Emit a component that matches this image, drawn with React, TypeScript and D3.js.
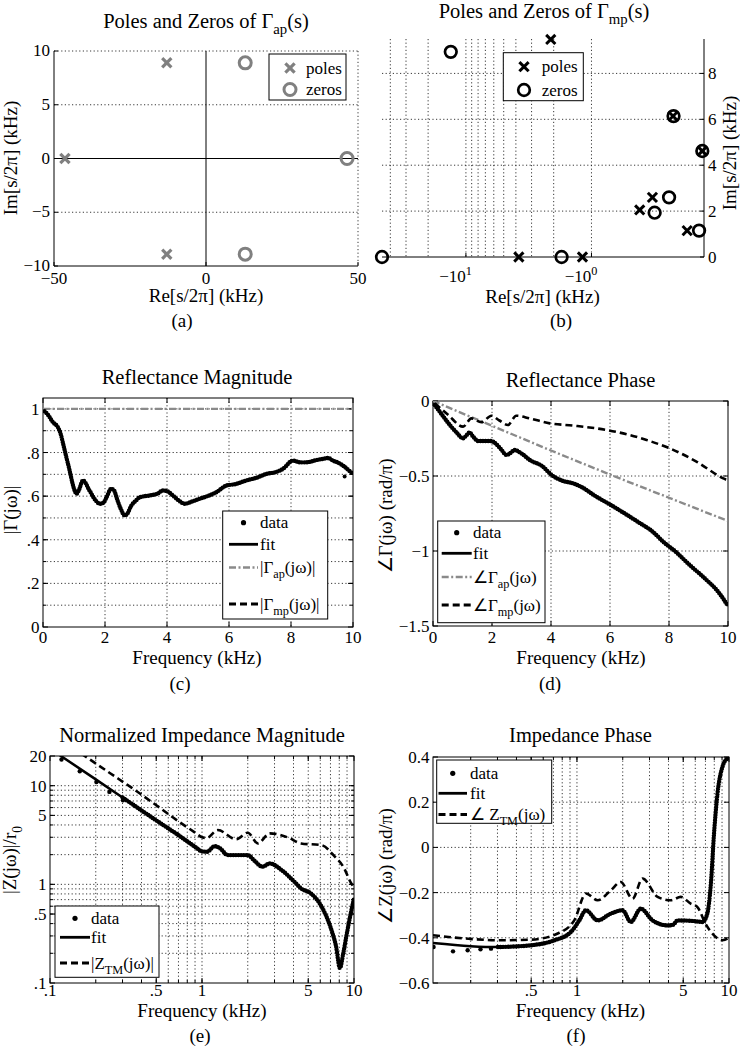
import React from 'react';
import * as d3 from 'd3';

const FONT = "'Liberation Serif', 'Times New Roman', Times, serif";

// ===== (a) poles / zeros of Γap (kHz) =====
const apPoleRe = [-12.9, -12.9, -46.4];
const apPoleIm = [8.9, -8.9, 0];
const apZeroRe = [12.9, 12.9, 46.4];
const apZeroIm = [8.9, -8.9, 0];
const aXTicks = [-50, 0, 50];
const aYTicks = [-10, -5, 0, 5, 10];
const aYGrid = [-5, 5];

// ===== (b) poles / zeros of Γmp (kHz) =====
const mpPoleRe = [-2.11, -3.79, -1.18, -0.224, -0.131, -0.413, -0.327, -0.173];
const mpPoleIm = [9.48, 0, 0, 6.14, 4.62, 2.05, 2.6, 1.15];
const mpZeroRe = [-46.6, -13.2, -1.73, -0.222, -0.131, -0.314, -0.241, -0.139];
const mpZeroIm = [0, 8.94, 0, 6.14, 4.62, 1.93, 2.6, 1.15];
const bYTicks = [0, 2, 4, 6, 8];
const bXTickMag = [10, 1];
const bXTickExp = ['1', '0'];
const bGridMag = [40, 30, 20, 10, 9, 8, 7, 6, 5, 4, 3, 2, 1];
const bYGrid = [2, 4, 6, 8];

// ===== (c) reflectance magnitude =====
const cMagFit: [number, number][] = [
  [0.05, 0.989], [0.15, 0.975], [0.32, 0.939], [0.48, 0.916], [0.56, 0.89], [0.65, 0.84], [0.75, 0.78],
  [0.86, 0.717], [0.95, 0.66], [1.02, 0.626], [1.08, 0.611], [1.15, 0.625], [1.29, 0.672], [1.5, 0.626],
  [1.7, 0.58], [1.83, 0.565], [1.95, 0.57], [2.05, 0.595], [2.2, 0.634], [2.3, 0.625], [2.37, 0.595],
  [2.5, 0.545], [2.64, 0.511], [2.72, 0.52], [2.85, 0.557], [3.0, 0.58], [3.12, 0.595], [3.44, 0.603],
  [3.7, 0.612], [3.87, 0.626], [4.0, 0.623], [4.19, 0.603], [4.4, 0.578], [4.57, 0.565], [4.8, 0.575],
  [5.05, 0.588], [5.3, 0.6], [5.59, 0.618], [5.92, 0.649], [6.2, 0.655], [6.56, 0.672], [6.9, 0.685],
  [7.2, 0.702], [7.5, 0.71], [7.74, 0.725], [8.06, 0.763], [8.3, 0.755], [8.5, 0.755], [8.8, 0.765],
  [9.03, 0.771], [9.2, 0.775], [9.35, 0.763], [9.5, 0.755], [9.68, 0.74], [9.85, 0.72], [10, 0.702],
];
const cMagMp = cMagFit; // |Γmp| coincides with |Γ| since |Γap| = 1
const cMagAp: [number, number][] = [[0, 1], [10, 1]];
const cDataOutliers: [number, number][] = [[9.73, 0.69]];
const cXTicks = [0, 2, 4, 6, 8, 10];
const cYTicks: [number, string][] = [[0, '0'], [0.2, '.2'], [0.4, '.4'], [0.6, '.6'], [0.8, '.8'], [1, '1']];
const cYGrid = [0.1, 0.2, 0.3, 0.4, 0.5, 0.6, 0.7, 0.8, 0.9, 1.0];

// ===== (d) reflectance phase (rad/π) =====
const dPhaseFit: [number, number][] = [
  [0.06, -0.027], [0.3, -0.09], [0.57, -0.16], [0.8, -0.21], [1.02, -0.249], [1.12, -0.232], [1.24, -0.209],
  [1.35, -0.235], [1.53, -0.267], [1.98, -0.267], [2.1, -0.28], [2.3, -0.32], [2.49, -0.36], [2.6, -0.35],
  [2.77, -0.327], [3.0, -0.35], [3.28, -0.393], [3.73, -0.438], [4.0, -0.49], [4.41, -0.533], [4.75, -0.549],
  [5.0, -0.57], [5.54, -0.638], [6.0, -0.69], [6.22, -0.716], [6.9, -0.8], [7.5, -0.88], [7.8, -0.938],
  [8.2, -1.0], [8.7, -1.093], [9.2, -1.18], [9.7, -1.28], [10, -1.367],
];
const dPhaseMp: [number, number][] = [
  [0.06, -0.015], [0.5, -0.09], [1.02, -0.171], [1.3, -0.116], [1.64, -0.142], [1.98, -0.098], [2.25, -0.13],
  [2.54, -0.16], [2.82, -0.098], [3.28, -0.116], [3.96, -0.149], [4.75, -0.164], [5.88, -0.193], [6.67, -0.227],
  [7.24, -0.26], [8.03, -0.316], [8.93, -0.404], [9.84, -0.516], [10, -0.53],
];
const dPhaseAp: [number, number][] = [[0, 0], [2, -0.165], [4, -0.33], [6, -0.49], [8, -0.645], [10, -0.8]];
const dYTicks: [number, string][] = [[0, '0'], [-0.5, '−0.5'], [-1, '−1'], [-1.5, '−1.5']];
const dYGrid = [-0.5, -1];

// ===== (e) normalized impedance magnitude =====
const eMagFit: [number, number][] = [
  [0.11, 21.5], [0.2, 11.6], [0.3, 7.6], [0.5, 4.45], [0.7, 3.15], [0.9, 2.4], [1.0, 2.16], [1.08, 2.14],
  [1.21, 2.44], [1.3, 2.35], [1.48, 1.98], [2.0, 1.98], [2.2, 1.75], [2.5, 1.51], [2.79, 1.63], [3.33, 1.4],
  [4.06, 1.06], [4.48, 0.91], [5.2, 0.81], [6.1, 0.6], [7.1, 0.346], [7.6, 0.24], [8.08, 0.142], [8.5, 0.2],
  [8.9, 0.296], [9.5, 0.5], [10, 0.72],
];
const eMagTM: [number, number][] = [
  [0.16, 21.2], [0.25, 13.3], [0.342, 9.6], [0.51, 6.2], [0.7, 4.35], [0.9, 3.35], [1.0, 3.0], [1.07, 2.95],
  [1.27, 3.55], [1.68, 2.86], [2.0, 3.34], [2.33, 2.6], [2.79, 3.29], [3.67, 2.99], [4.48, 2.6], [6.1, 2.5],
  [7.5, 1.9], [8.5, 1.51], [9.6, 1.02], [10, 0.93],
];
const eDataLow: [number, number][] = [[0.119, 18.4], [0.157, 14.0], [0.202, 10.9], [0.246, 8.65], [0.302, 7.1]];
const eXTicks: [number, string][] = [[0.1, '.1'], [0.5, '.5'], [1, '1'], [5, '5'], [10, '10']];
const eYTicks: [number, string][] = [[0.1, '.1'], [0.5, '.5'], [1, '1'], [5, '5'], [10, '10'], [20, '20']];

// ===== (f) impedance phase =====
const fPhaseFit: [number, number][] = [
  [0.113, -0.423], [0.2, -0.437], [0.302, -0.441], [0.5, -0.433], [0.71, -0.411], [0.913, -0.374],
  [1.036, -0.323], [1.146, -0.278], [1.367, -0.323], [1.67, -0.293], [1.996, -0.278], [2.26, -0.33],
  [2.63, -0.271], [3.14, -0.323], [3.94, -0.345], [4.3, -0.342], [4.58, -0.323], [5.9, -0.326], [6.7, -0.33],
  [7.2, -0.293], [7.6, -0.16], [7.97, 0.061], [8.4, 0.238], [9.05, 0.356], [9.75, 0.393], [10, 0.395],
];
const fPhaseTM: [number, number][] = [
  [0.113, -0.389], [0.2, -0.405], [0.3, -0.411], [0.5, -0.408], [0.747, -0.381], [0.96, -0.323],
  [1.146, -0.204], [1.367, -0.234], [1.67, -0.19], [1.94, -0.153], [2.32, -0.227], [2.7, -0.138],
  [3.39, -0.219], [4.14, -0.234], [4.82, -0.219], [5.6, -0.249], [6.2, -0.264], [7.0, -0.337], [7.97, -0.389],
  [9.05, -0.411], [9.76, -0.404], [10, -0.395],
];
const fDataLow: [number, number][] = [[0.114, -0.441], [0.153, -0.46], [0.191, -0.455], [0.232, -0.451], [0.272, -0.448]];
const fXTicks: [number, string][] = [[0.5, '.5'], [1, '1'], [5, '5'], [10, '10']];
const fYTicks: [number, string][] = [[-0.6, '−0.6'], [-0.4, '−0.4'], [-0.2, '−0.2'], [0, '0'], [0.2, '0.2'], [0.4, '0.4']];
const fYGrid = [-0.4, -0.2, 0, 0.2];

const logMinor = [0.2, 0.3, 0.4, 0.5, 0.6, 0.7, 0.8, 0.9, 1, 2, 3, 4, 5, 6, 7, 8, 9];

// ===== styles =====
const GRID = { stroke: '#222', strokeWidth: 0.9, strokeDasharray: '1.2,2.4' };
const FIT = { fill: 'none', stroke: '#000', strokeWidth: 2.5 };
const DATA = { fill: 'none', stroke: '#000', strokeWidth: 4.4, strokeDasharray: '0,2.6', strokeLinecap: 'round' as const };
const DASH = { fill: 'none', stroke: '#000', strokeWidth: 2.6, strokeDasharray: '7,4' };
const DASHDOT = { fill: 'none', stroke: '#8a8a8a', strokeWidth: 2.4, strokeDasharray: '7,2.5,2,2.5' };
const TICK = 17, LAB = 19, TITLE = 20.5, LEG = 17;

type Seg = { t: string; s?: 'sub' | 'sup' };
function parse(s: string): Seg[] {
  const out: Seg[] = [];
  const re = /([_^])\{([^}]*)\}/g;
  let last = 0;
  let m: RegExpExecArray | null;
  while ((m = re.exec(s))) {
    if (m.index > last) out.push({ t: s.slice(last, m.index) });
    out.push({ t: m[2], s: m[1] === '_' ? 'sub' : 'sup' });
    last = re.lastIndex;
  }
  if (last < s.length) out.push({ t: s.slice(last) });
  return out;
}

function Rich({ x, y, s, size, anchor = 'start', rot = false }: { x: number; y: number; s: string; size: number; anchor?: string; rot?: boolean }) {
  let shift = 0;
  const segs = parse(s);
  const spans = segs.map((sg, i) => {
    const target = sg.s === 'sub' ? size * 0.3 : sg.s === 'sup' ? -size * 0.42 : 0;
    const dy = target - shift;
    shift = target;
    return (
      <tspan key={i} dy={dy} fontSize={sg.s ? size * 0.72 : size}>
        {sg.t}
      </tspan>
    );
  });
  const txt = (
    <text x={rot ? 0 : x} y={rot ? 0 : y} fontSize={size} textAnchor={anchor as any} fill="#000" style={{ whiteSpace: 'pre' }}>
      {spans}
    </text>
  );
  return rot ? <g transform={`translate(${x},${y}) rotate(-90)`}>{txt}</g> : txt;
}

function XMark({ cx, cy, h, color, w }: { cx: number; cy: number; h: number; color: string; w: number }) {
  return (
    <g stroke={color} strokeWidth={w}>
      <line x1={cx - h} y1={cy - h} x2={cx + h} y2={cy + h} />
      <line x1={cx - h} y1={cy + h} x2={cx + h} y2={cy - h} />
    </g>
  );
}
function OMark({ cx, cy, r, color, w }: { cx: number; cy: number; r: number; color: string; w: number }) {
  return <circle cx={cx} cy={cy} r={r} fill="none" stroke={color} strokeWidth={w} />;
}

function path(xs: any, ys: any, pts: [number, number][]) {
  return d3.line<[number, number]>().x((d) => xs(d[0])).y((d) => ys(d[1])).curve(d3.curveMonotoneX)(pts) || '';
}

type Box = { x0: number; x1: number; y0: number; y1: number };

function Frame({ b, xs, ys, xGrid, yGrid, xTicks, yTicks, xMinor = [], yMinor = [], xOff = 17 }: {
  b: Box; xs: any; ys: any; xGrid: number[]; yGrid: number[]; xTicks: [number, string][]; yTicks: [number, string][];
  xMinor?: number[]; yMinor?: number[]; xOff?: number;
}) {
  const { x0, x1, y0, y1 } = b;
  const TL = 5, TM = 3;
  return (
    <g>
      {xGrid.map((v) => <line key={'gx' + v} x1={xs(v)} x2={xs(v)} y1={y0} y2={y1} {...GRID} />)}
      {yGrid.map((v) => <line key={'gy' + v} x1={x0} x2={x1} y1={ys(v)} y2={ys(v)} {...GRID} />)}
      <g stroke="#000" strokeWidth={1}>
        {xTicks.map(([v]) => (
          <g key={'tx' + v}>
            <line x1={xs(v)} x2={xs(v)} y1={y1} y2={y1 - TL} />
            <line x1={xs(v)} x2={xs(v)} y1={y0} y2={y0 + TL} />
          </g>
        ))}
        {xMinor.map((v) => (
          <g key={'mx' + v}>
            <line x1={xs(v)} x2={xs(v)} y1={y1} y2={y1 - TM} />
            <line x1={xs(v)} x2={xs(v)} y1={y0} y2={y0 + TM} />
          </g>
        ))}
        {yTicks.map(([v]) => (
          <g key={'ty' + v}>
            <line x1={x0} x2={x0 + TL} y1={ys(v)} y2={ys(v)} />
            <line x1={x1} x2={x1 - TL} y1={ys(v)} y2={ys(v)} />
          </g>
        ))}
        {yMinor.map((v) => (
          <g key={'my' + v}>
            <line x1={x0} x2={x0 + TM} y1={ys(v)} y2={ys(v)} />
            <line x1={x1} x2={x1 - TM} y1={ys(v)} y2={ys(v)} />
          </g>
        ))}
      </g>
      <rect x={x0} y={y0} width={x1 - x0} height={y1 - y0} fill="none" stroke="#000" strokeWidth={1} />
      {xTicks.map(([v, l]) => (
        <text key={'lx' + v} x={xs(v)} y={y1 + xOff} fontSize={TICK} textAnchor="middle">{l}</text>
      ))}
      {yTicks.map(([v, l]) => (
        <text key={'ly' + v} x={x0 - 3.5} y={ys(v) + 6} fontSize={TICK} textAnchor="end">{l}</text>
      ))}
    </g>
  );
}

type LegItem = { y: number; kind: 'dot' | 'fit' | 'dash' | 'dashdot'; label: string };
function LineLegend({ b, lx0, lx1, tx, items }: { b: Box; lx0: number; lx1: number; tx: number; items: LegItem[] }) {
  return (
    <g>
      <rect x={b.x0} y={b.y0} width={b.x1 - b.x0} height={b.y1 - b.y0} fill="#fff" stroke="#000" strokeWidth={1} />
      {items.map((it, i) => (
        <g key={i}>
          {it.kind === 'dot' && <circle cx={(lx0 + lx1) / 2} cy={it.y} r={2.6} fill="#000" />}
          {it.kind === 'fit' && <line x1={lx0} x2={lx1} y1={it.y} y2={it.y} {...FIT} strokeWidth={2.8} />}
          {it.kind === 'dash' && <line x1={lx0} x2={lx1} y1={it.y} y2={it.y} {...DASH} strokeWidth={3} />}
          {it.kind === 'dashdot' && <line x1={lx0} x2={lx1} y1={it.y} y2={it.y} {...DASHDOT} strokeWidth={2.6} />}
          <Rich x={tx} y={it.y + 5.5} s={it.label} size={LEG} />
        </g>
      ))}
    </g>
  );
}

function ClipRect({ id, b }: { id: string; b: Box }) {
  return (
    <clipPath id={id}>
      <rect x={b.x0} y={b.y0} width={b.x1 - b.x0} height={b.y1 - b.y0} />
    </clipPath>
  );
}

function PanelA() {
  const b = { x0: 54, x1: 358, y0: 51, y1: 266 };
  const xs = d3.scaleLinear().domain([-50, 50]).range([b.x0, b.x1]);
  const ys = d3.scaleLinear().domain([-10, 10]).range([b.y1, b.y0]);
  const gray = '#808080';
  return (
    <g>
      {aYGrid.map((v) => <line key={v} x1={b.x0} x2={b.x1} y1={ys(v)} y2={ys(v)} {...GRID} />)}
      <line x1={b.x0} x2={b.x1} y1={b.y0} y2={b.y0} {...GRID} />
      <line x1={b.x1} x2={b.x1} y1={b.y0} y2={b.y1} {...GRID} />
      <line x1={b.x0} x2={b.x0} y1={b.y0} y2={b.y1} stroke="#000" />
      <line x1={b.x0} x2={b.x1} y1={b.y1} y2={b.y1} stroke="#000" />
      <line x1={xs(0)} x2={xs(0)} y1={b.y0} y2={b.y1} stroke="#000" strokeWidth={1} />
      <line x1={b.x0} x2={b.x1} y1={ys(0)} y2={ys(0)} stroke="#000" strokeWidth={1} />
      {aYTicks.map((v) => <line key={'t' + v} x1={b.x0} x2={b.x0 + 4} y1={ys(v)} y2={ys(v)} stroke="#000" />)}
      {aXTicks.map((v) => <line key={'u' + v} x1={xs(v)} x2={xs(v)} y1={b.y1} y2={b.y1 - 4} stroke="#000" />)}
      {apPoleRe.map((r, i) => <XMark key={'p' + i} cx={xs(r)} cy={ys(apPoleIm[i])} h={4.6} color={gray} w={3.2} />)}
      {apZeroRe.map((r, i) => <OMark key={'z' + i} cx={xs(r)} cy={ys(apZeroIm[i])} r={6} color={gray} w={3} />)}
      {aYTicks.map((v) => (
        <text key={'ly' + v} x={b.x0 - 4} y={ys(v) + 5} fontSize={TICK} textAnchor="end">{v < 0 ? '−' + Math.abs(v) : v}</text>
      ))}
      {aXTicks.map((v) => (
        <text key={'lx' + v} x={xs(v)} y={b.y1 + 18} fontSize={TICK} textAnchor="middle">{v < 0 ? '−' + Math.abs(v) : v}</text>
      ))}
      <rect x={269} y={54} width={77} height={46} fill="#fff" stroke="#000" />
      <XMark cx={290} cy={68} h={4.6} color={gray} w={3.2} />
      <OMark cx={290} cy={89.5} r={6} color={gray} w={3} />
      <text x={306} y={73.5} fontSize={LEG}>poles</text>
      <text x={306} y={95} fontSize={LEG}>zeros</text>
      <Rich x={206} y={28} s="Poles and Zeros of Γ_{ap}(s)" size={TITLE} anchor="middle" />
      <Rich x={206} y={302} s="Re[s/2π] (kHz)" size={LAB} anchor="middle" />
      <Rich x={17} y={158} s="Im[s/2π] (kHz)" size={LAB} anchor="middle" rot />
      <text x={182} y={327} fontSize={LAB} textAnchor="middle">(a)</text>
    </g>
  );
}

function PanelB() {
  const b = { x0: 382, x1: 704, y0: 39, y1: 257 };
  const xs = d3.scaleLog().domain([46.6, 0.127]).range([b.x0, b.x1]);
  const ys = d3.scaleLinear().domain([0, 9.5]).range([b.y1, b.y0]);
  return (
    <g>
      {bGridMag.map((m) => <line key={'g' + m} x1={xs(m)} x2={xs(m)} y1={b.y0} y2={b.y1} {...GRID} />)}
      {bYGrid.map((v) => <line key={'h' + v} x1={b.x0} x2={b.x1} y1={ys(v)} y2={ys(v)} {...GRID} />)}
      <line x1={b.x0} x2={b.x1} y1={b.y1} y2={b.y1} stroke="#000" />
      <line x1={b.x1} x2={b.x1} y1={b.y0} y2={b.y1} stroke="#000" />
      {bYTicks.map((v) => <line key={'t' + v} x1={b.x1} x2={b.x1 - 4} y1={ys(v)} y2={ys(v)} stroke="#000" />)}
      {bXTickMag.map((m) => <line key={'u' + m} x1={xs(m)} x2={xs(m)} y1={b.y1} y2={b.y1 - 4} stroke="#000" />)}
      {mpPoleRe.map((r, i) => <XMark key={'p' + i} cx={xs(-r)} cy={ys(mpPoleIm[i])} h={4.6} color="#000" w={3} />)}
      {mpZeroRe.map((r, i) => <OMark key={'z' + i} cx={xs(-r)} cy={ys(mpZeroIm[i])} r={5.8} color="#000" w={2.7} />)}
      {bYTicks.map((v) => (
        <text key={'ly' + v} x={b.x1 + 4} y={ys(v) + 6} fontSize={TICK}>{v}</text>
      ))}
      {bXTickMag.map((m, i) => (
        <Rich key={'lx' + m} x={xs(m) + 6} y={b.y1 + 25} s={'−10^{' + bXTickExp[i] + '}'} size={TICK} anchor="end" />
      ))}
      <rect x={503.3} y={52.7} width={80} height={48} fill="#fff" stroke="#000" />
      <XMark cx={524} cy={66.7} h={4.6} color="#000" w={3} />
      <OMark cx={524} cy={90} r={5.8} color="#000" w={2.7} />
      <text x={541.7} y={72} fontSize={LEG}>poles</text>
      <text x={541.7} y={95.5} fontSize={LEG}>zeros</text>
      <Rich x={544} y={18} s="Poles and Zeros of Γ_{mp}(s)" size={TITLE} anchor="middle" />
      <Rich x={542.5} y={303} s="Re[s/2π] (kHz)" size={LAB} anchor="middle" />
      <Rich x={736} y={153} s="Im[s/2π] (kHz)" size={LAB} anchor="middle" rot />
      <text x={561} y={327} fontSize={LAB} textAnchor="middle">(b)</text>
    </g>
  );
}

function PanelC() {
  const b = { x0: 43, x1: 353, y0: 398, y1: 627 };
  const xs = d3.scaleLinear().domain([0, 10]).range([b.x0, b.x1]);
  const ys = d3.scaleLinear().domain([0, 1.05]).range([b.y1, b.y0]);
  return (
    <g>
      <Frame b={b} xs={xs} ys={ys} xGrid={[2, 4, 6, 8]} yGrid={cYGrid}
        xTicks={cXTicks.map((v) => [v, String(v)] as [number, string])} yTicks={cYTicks}
        yMinor={cYGrid} xOff={16} />
      <g clipPath="url(#clipC)">
        <path d={path(xs, ys, cMagAp)} {...DASHDOT} />
        <path d={path(xs, ys, cMagFit)} {...FIT} />
        <path d={path(xs, ys, cMagFit)} {...DATA} />
        <path d={path(xs, ys, cMagMp)} {...DASH} />
        {cDataOutliers.map((d, i) => <circle key={i} cx={xs(d[0])} cy={ys(d[1])} r={2} fill="#000" />)}
      </g>
      <LineLegend b={{ x0: 222.7, x1: 327.7, y0: 511, y1: 619 }} lx0={229} lx1={258} tx={260}
        items={[
          { y: 522.7, kind: 'dot', label: 'data' },
          { y: 544.3, kind: 'fit', label: 'fit' },
          { y: 567.5, kind: 'dashdot', label: '|Γ_{ap}(jω)|' },
          { y: 604, kind: 'dash', label: '|Γ_{mp}(jω)|' },
        ]} />
      <Rich x={197} y={384} s="Reflectance Magnitude" size={TITLE} anchor="middle" />
      <Rich x={197} y={664} s="Frequency (kHz)" size={LAB} anchor="middle" />
      <Rich x={17} y={510} s="|Γ(jω)|" size={LAB} anchor="middle" rot />
      <text x={180} y={690} fontSize={LAB} textAnchor="middle">(c)</text>
    </g>
  );
}

function PanelD() {
  const b = { x0: 433, x1: 728, y0: 401, y1: 626 };
  const xs = d3.scaleLinear().domain([0, 10]).range([b.x0, b.x1]);
  const ys = d3.scaleLinear().domain([-1.5, 0]).range([b.y1, b.y0]);
  return (
    <g>
      <Frame b={b} xs={xs} ys={ys} xGrid={[2, 4, 6, 8]} yGrid={dYGrid}
        xTicks={cXTicks.map((v) => [v, String(v)] as [number, string])} yTicks={dYTicks} xOff={17} />
      <g clipPath="url(#clipD)">
        <path d={path(xs, ys, dPhaseAp)} {...DASHDOT} />
        <path d={path(xs, ys, dPhaseMp)} {...DASH} />
        <path d={path(xs, ys, dPhaseFit)} {...FIT} />
        <path d={path(xs, ys, dPhaseFit)} {...DATA} />
      </g>
      <LineLegend b={{ x0: 437.7, x1: 545, y0: 521, y1: 622.7 }} lx0={441.7} lx1={471.7} tx={473}
        items={[
          { y: 532.7, kind: 'dot', label: 'data' },
          { y: 553.3, kind: 'fit', label: 'fit' },
          { y: 577, kind: 'dashdot', label: '∠Γ_{ap}(jω)' },
          { y: 605, kind: 'dash', label: '∠Γ_{mp}(jω)' },
        ]} />
      <Rich x={580.5} y={386.5} s="Reflectance Phase" size={TITLE} anchor="middle" />
      <Rich x={581} y={664} s="Frequency (kHz)" size={LAB} anchor="middle" />
      <Rich x={392} y={516} s="∠Γ(jω) (rad/π)" size={LAB} anchor="middle" rot />
      <text x={550} y={690} fontSize={LAB} textAnchor="middle">(d)</text>
    </g>
  );
}

function PanelE() {
  const b = { x0: 50, x1: 354, y0: 756, y1: 983 };
  const xs = d3.scaleLog().domain([0.1, 10]).range([b.x0, b.x1]);
  const ys = d3.scaleLog().domain([0.1, 20]).range([b.y1, b.y0]);
  const yGridE = [...logMinor, 10];
  return (
    <g>
      <Frame b={b} xs={xs} ys={ys} xGrid={logMinor} yGrid={yGridE} xTicks={eXTicks} yTicks={eYTicks}
        xMinor={logMinor} yMinor={yGridE} xOff={13} />
      <g clipPath="url(#clipE)">
        <path d={path(xs, ys, eMagTM)} {...DASH} />
        <path d={path(xs, ys, eMagFit)} {...FIT} />
        <path d={path(xs, ys, eMagFit.filter((d) => d[0] >= 0.3))} {...DATA} />
        {eDataLow.map((d, i) => <circle key={i} cx={xs(d[0])} cy={ys(d[1])} r={2.2} fill="#000" />)}
      </g>
      <LineLegend b={{ x0: 55, x1: 159, y0: 906, y1: 977.3 }} lx0={60} lx1={90} tx={91}
        items={[
          { y: 918.3, kind: 'dot', label: 'data' },
          { y: 937.3, kind: 'fit', label: 'fit' },
          { y: 963, kind: 'dash', label: '|Z_{TM}(jω)|' },
        ]} />
      <Rich x={202} y={742} s="Normalized Impedance Magnitude" size={TITLE} anchor="middle" />
      <Rich x={202} y={1017} s="Frequency (kHz)" size={LAB} anchor="middle" />
      <Rich x={16} y={860} s="|Z(jω)|/r_{0}" size={LAB} anchor="middle" rot />
      <text x={200} y={1042} fontSize={LAB} textAnchor="middle">(e)</text>
    </g>
  );
}

function PanelF() {
  const b = { x0: 433, x1: 729, y0: 757, y1: 983 };
  const xs = d3.scaleLog().domain([0.113, 10]).range([b.x0, b.x1]);
  const ys = d3.scaleLinear().domain([-0.6, 0.4]).range([b.y1, b.y0]);
  return (
    <g>
      <Frame b={b} xs={xs} ys={ys} xGrid={logMinor} yGrid={fYGrid} xTicks={fXTicks} yTicks={fYTicks}
        xMinor={logMinor} xOff={13} />
      <g clipPath="url(#clipF)">
        <path d={path(xs, ys, fPhaseTM)} {...DASH} />
        <path d={path(xs, ys, fPhaseFit)} {...FIT} />
        <path d={path(xs, ys, fPhaseFit.filter((d) => d[0] >= 0.3))} {...DATA} />
        {fDataLow.map((d, i) => <circle key={i} cx={xs(d[0])} cy={ys(d[1])} r={2.2} fill="#000" />)}
      </g>
      <LineLegend b={{ x0: 436.7, x1: 551.7, y0: 760, y1: 823.3 }} lx0={438.5} lx1={467} tx={470}
        items={[
          { y: 773.3, kind: 'dot', label: 'data' },
          { y: 793.3, kind: 'fit', label: 'fit' },
          { y: 814.5, kind: 'dash', label: '∠ Z_{TM}(jω)' },
        ]} />
      <Rich x={580.5} y={742} s="Impedance Phase" size={TITLE} anchor="middle" />
      <Rich x={580.5} y={1017} s="Frequency (kHz)" size={LAB} anchor="middle" />
      <Rich x={392} y={866} s="∠Z(jω) (rad/π)" size={LAB} anchor="middle" rot />
      <text x={576} y={1042} fontSize={LAB} textAnchor="middle">(f)</text>
    </g>
  );
}

export default function App() {
  return (
    <svg width={740} height={1050} viewBox="0 0 740 1050" fontFamily={FONT}
      style={{ position: 'absolute', left: 0, top: 0, background: '#fff' }}>
      <style>{`text, tspan { font-family: 'Liberation Serif', 'Times New Roman', Times, serif; }`}</style>
      <defs>
        <ClipRect id="clipC" b={{ x0: 43, x1: 353, y0: 398, y1: 627 }} />
        <ClipRect id="clipD" b={{ x0: 433, x1: 728, y0: 401, y1: 626 }} />
        <ClipRect id="clipE" b={{ x0: 50, x1: 354, y0: 756, y1: 983 }} />
        <ClipRect id="clipF" b={{ x0: 433, x1: 729, y0: 757, y1: 983 }} />
      </defs>
      <rect width={740} height={1050} fill="#fff" />
      <PanelA />
      <PanelB />
      <PanelC />
      <PanelD />
      <PanelE />
      <PanelF />
    </svg>
  );
}
